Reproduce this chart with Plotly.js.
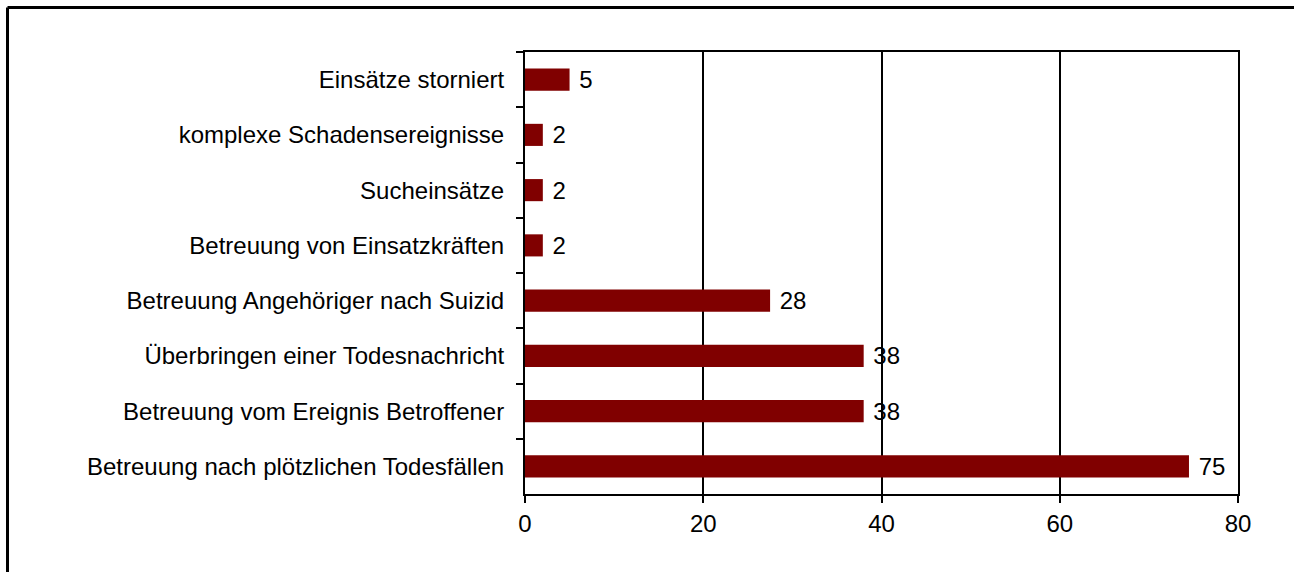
<!DOCTYPE html>
<html>
<head>
<meta charset="utf-8">
<script src="https://cdn.plot.ly/plotly-3.0.1.min.js"></script>
<style>
  body { margin: 0; background: #fff; }
  #chart { width: 1294px; height: 572px; }
</style>
</head>
<body>
<div id="chart"></div>
<script>
// categories, top to bottom
var categories = [
  "Einsätze storniert",
  "komplexe Schadensereignisse",
  "Sucheinsätze",
  "Betreuung von Einsatzkräften",
  "Betreuung Angehöriger nach Suizid",
  "Überbringen einer Todesnachricht",
  "Betreuung vom Ereignis Betroffener",
  "Betreuung nach plötzlichen Todesfällen"
];
var counts = [5, 2, 2, 2, 27.5, 38, 38, 74.5];

var xTicks = [0, 20, 40, 60, 80];

var font = {family: "Liberation Sans, Arial, sans-serif", size: 24, color: "#000"};

var data = [{
  type: "bar",
  orientation: "h",
  x: counts,
  y: categories,
  marker: {color: "#800000"},
  texttemplate: "&nbsp;%{x:.0f}",
  textposition: "outside",
  constraintext: "none",
  cliponaxis: false,
  textfont: font,
  width: 0.4,
  hoverinfo: "x+y"
}];

// page frame (top and left edge only)
var fx0 = (7.5 - 525) / 713;
var fy0 = 1 + (52 - 7.5) / 442;

var layout = {
  width: 1294,
  height: 572,
  margin: {l: 525, r: 56, t: 52, b: 78},
  paper_bgcolor: "#fff",
  plot_bgcolor: "#fff",
  font: font,
  showlegend: false,
  xaxis: {
    range: [0, 80],
    tickvals: xTicks,
    ticks: "outside",
    ticklen: 7,
    tickwidth: 2,
    tickcolor: "#000",
    showline: true,
    linewidth: 2,
    linecolor: "#000",
    mirror: true,
    showgrid: true,
    gridcolor: "#000",
    gridwidth: 2,
    zeroline: false,
    tickfont: font
  },
  yaxis: {
    autorange: "reversed",
    ticks: "outside",
    tickson: "boundaries",
    ticklen: 7,
    tickwidth: 2,
    tickcolor: "#000",
    showline: true,
    linewidth: 2,
    linecolor: "#000",
    mirror: true,
    showgrid: false,
    tickfont: font,
    ticklabelstandoff: 14
  },
  shapes: [
    {type: "line", xref: "paper", yref: "paper", x0: fx0, x1: 1.1, y0: fy0, y1: fy0,
     line: {color: "#000", width: 3}},
    {type: "line", xref: "paper", yref: "paper", x0: fx0, x1: fx0, y0: fy0, y1: -0.2,
     line: {color: "#000", width: 3}}
  ]
};

Plotly.newPlot("chart", data, layout, {displayModeBar: false, staticPlot: true});
</script>
</body>
</html>
